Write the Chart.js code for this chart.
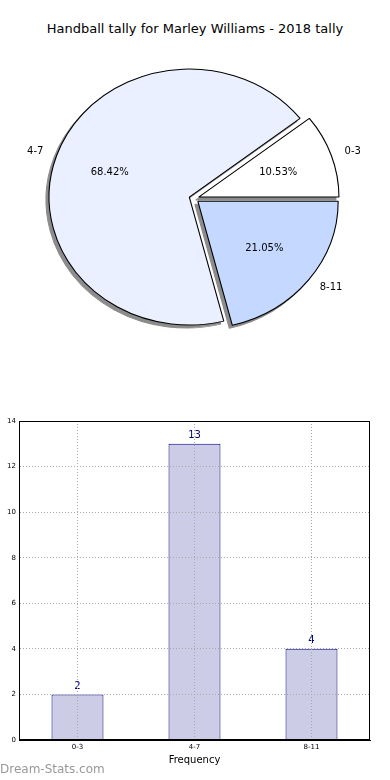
<!DOCTYPE html>
<html>
<head>
<meta charset="utf-8">
<script src="https://cdn.jsdelivr.net/npm/chart.js@4.4.1/dist/chart.umd.min.js"></script>
<style>
  html, body { margin: 0; padding: 0; background: #fff; }
  body { width: 390px; height: 780px; position: relative; overflow: hidden; font-family: 'DejaVu Sans', sans-serif; }
  #title { position: absolute; top: 21px; left: 0; width: 390px; text-align: center; font-size: 13px; color: #000; }
  #pieWrap { position: absolute; top: 0; left: 0; width: 390px; height: 345px; }
  #barWrap { position: absolute; top: 400px; left: -10px; width: 400px; height: 380px; }
  #mark { position: absolute; left: 0; top: 762px; font-size: 12px; color: #999; }
</style>
</head>
<body>
<div id="title">Handball tally for Marley Williams - 2018 tally</div>
<div id="pieWrap"><canvas id="pie" width="390" height="345"></canvas></div>
<div id="barWrap"><canvas id="bar" width="400" height="380"></canvas></div>
<div id="mark">Dream-Stats.com</div>
<script>
// Handball tally - pie of shares + bar of counts
const categories = ['0-3', '4-7', '8-11'];
const tallies = [2, 13, 4];
const yTicks = [0, 2, 4, 6, 8, 10, 12, 14];

const sliceColors = ['#ffffff', '#eaf0ff', '#c5d8ff'];
const sliceExplode = [4.5, 4.5, 4.5];   // px pulled out along the slice middle
const stretchX = 1.096;                 // matplotlib pie is a bit wider than tall

const total = tallies.reduce((a, b) => a + b, 0);

// pie runs clockwise in chart.js, matplotlib goes counter clockwise -> reverse
const pieLabels = categories.slice().reverse();
const pieValues = tallies.slice().reverse();
const pieExplode = sliceExplode.slice().reverse();

// copy of an arc element with other options (shared options are frozen)
function cloneArc(arc, opts) {
  const c = Object.assign(Object.create(Object.getPrototypeOf(arc)), arc);
  c.options = Object.assign({}, arc.options, opts);
  return c;
}

function ellipse(ctx, arc) {
  ctx.translate(arc.x, arc.y);
  ctx.scale(stretchX, 1);
  ctx.translate(-arc.x, -arc.y);
}

const pieLook = {
  id: 'pieLook',
  beforeDatasetsDraw(chart) {
    const ctx = chart.ctx;
    const arcs = chart.getDatasetMeta(0).data;
    const pass = (shadow) => {
      arcs.forEach((arc, i) => {
        const a = (arc.startAngle + arc.endAngle) / 2;
        ctx.save();
        if (shadow) ctx.translate(-3, 3);
        ellipse(ctx, arc);
        ctx.translate(Math.cos(a) * pieExplode[i], Math.sin(a) * pieExplode[i]);
        const opts = shadow ? { backgroundColor: '#8c8c8c', borderColor: '#8c8c8c', offset: 0 } : { offset: 0 };
        cloneArc(arc, opts).draw(ctx);
        ctx.restore();
      });
    };
    pass(true);
    pass(false);
    return false;
  },
  afterDraw(chart) {
    const ctx = chart.ctx;
    ctx.save();
    ctx.fillStyle = '#000';
    ctx.font = '10px "DejaVu Sans"';
    ctx.textBaseline = 'middle';
    chart.getDatasetMeta(0).data.forEach((arc, i) => {
      const a = (arc.startAngle + arc.endAngle) / 2;
      const off = pieExplode[i];
      const cx = arc.x + Math.cos(a) * off * stretchX;
      const cy = arc.y + Math.sin(a) * off;
      const r = arc.outerRadius;
      // category label outside
      const lx = cx + Math.cos(a) * r * 1.1 * stretchX;
      const ly = cy + Math.sin(a) * r * 1.1;
      ctx.textAlign = Math.cos(a) > 0 ? 'left' : 'right';
      ctx.fillText(pieLabels[i], lx, ly);
      // percentage inside
      const px = cx + Math.cos(a) * r * 0.6 * stretchX;
      const py = cy + Math.sin(a) * r * 0.6;
      ctx.textAlign = 'center';
      ctx.fillText((pieValues[i] / total * 100).toFixed(2) + '%', px, py);
    });
    ctx.restore();
  }
};

new Chart(document.getElementById('pie'), {
  type: 'pie',
  data: {
    labels: pieLabels,
    datasets: [{
      data: pieValues,
      backgroundColor: sliceColors.slice().reverse(),
      borderColor: '#000',
      borderWidth: 1,
      radius: 128
    }]
  },
  options: {
    responsive: false,
    animation: false,
    events: [],
    rotation: 90,
    layout: { padding: { top: 60, bottom: 8, left: 0, right: 2 } },
    plugins: { legend: { display: false }, tooltip: { enabled: false }, title: { display: false } }
  },
  plugins: [pieLook]
});

// bar chart: value labels and full frame
const barExtras = {
  id: 'barExtras',
  afterDatasetsDraw(chart) {
    const ctx = chart.ctx;
    ctx.save();
    ctx.fillStyle = '#000080';
    ctx.font = '10px "DejaVu Sans"';
    ctx.textAlign = 'center';
    ctx.textBaseline = 'middle';
    chart.getDatasetMeta(0).data.forEach((bar, i) => {
      ctx.fillText(String(tallies[i]), bar.x, bar.y - 8);
    });
    ctx.restore();
  },
  afterDraw(chart) {
    const { left, top, right, bottom } = chart.chartArea;
    const ctx = chart.ctx;
    ctx.save();
    ctx.strokeStyle = '#000';
    ctx.lineWidth = 1;
    ctx.strokeRect(Math.round(left) + 0.5, Math.round(top) + 0.5, Math.round(right - left) - 1, Math.round(bottom - top) - 1);
    ctx.restore();
  }
};

const gridLook = { color: '#a8a8a8', z: 1, drawTicks: false };
const borderLook = { color: '#000', width: 1, dash: [1, 2], z: 2 };

new Chart(document.getElementById('bar'), {
  type: 'bar',
  data: {
    labels: categories,
    datasets: [{
      data: tallies,
      backgroundColor: '#ccccE6',
      borderColor: '#000080',
      borderWidth: 1,
      barPercentage: 0.444,
      categoryPercentage: 1
    }]
  },
  options: {
    responsive: false,
    animation: false,
    events: [],
    layout: { padding: { top: 21, right: 20, left: 0, bottom: 0 } },
    plugins: { legend: { display: false }, tooltip: { enabled: false } },
    scales: {
      x: {
        offset: true,
        grid: { ...gridLook, offset: false },
        border: borderLook,
        ticks: { color: '#000', font: { family: 'DejaVu Sans', size: 7 }, padding: 3 },
        title: { display: true, text: 'Frequency', color: '#000', font: { family: 'DejaVu Sans', size: 10 }, padding: { top: 0, bottom: 14 } },
        afterFit(s) { s.height = 40; }
      },
      y: {
        min: yTicks[0],
        max: yTicks[yTicks.length - 1],
        afterBuildTicks(s) { s.ticks = yTicks.map(v => ({ value: v })); },
        grid: gridLook,
        border: borderLook,
        ticks: { color: '#000', font: { family: 'DejaVu Sans', size: 7 }, padding: 3 },
        title: { display: true, text: 'Occurrences', color: '#000', font: { family: 'DejaVu Sans', size: 10 }, padding: { top: 1, bottom: 0 } },
        afterFit(s) { s.width = 29; }
      }
    }
  },
  plugins: [barExtras]
});
</script>
</body>
</html>
